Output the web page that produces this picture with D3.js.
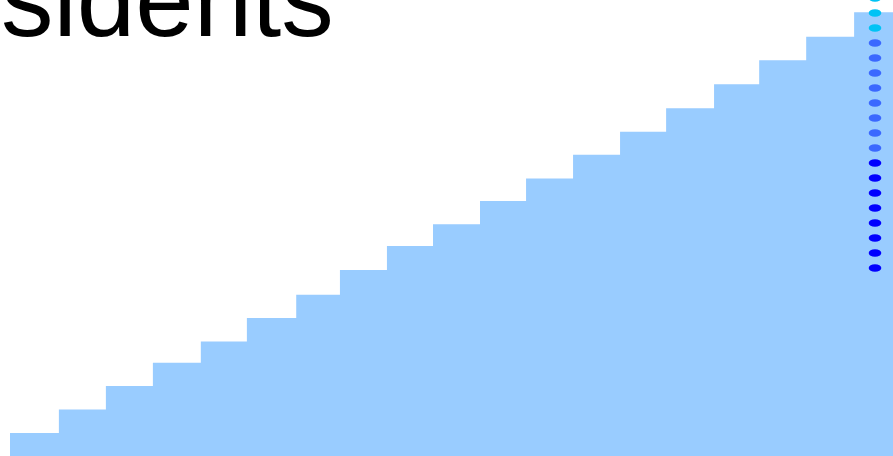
<!DOCTYPE html>
<html>
<head>
<meta charset="utf-8">
<script src="https://cdn.jsdelivr.net/npm/d3@7"></script>
<style>
  html, body { margin: 0; padding: 0; background: #fff; overflow: hidden; }
  svg { display: block; }
</style>
</head>
<body>
<div id="chart"></div>
<script>
// ---------------------------------------------
// DATA
// ---------------------------------------------
const titleText = "Presidents";

// step index where each count begins, and the running count
const stepStart = [0, 1.04, 2.04, 3.04, 4.06, 5.04, 6.09, 7.02, 8.02, 9, 10, 10.98, 11.98, 12.98, 13.96, 14.98, 15.94, 16.94, 17.96];
const stepCount = [1, 2, 3, 4, 4.9, 5.9, 6.9, 7.95, 8.97, 9.9, 10.9, 11.85, 12.87, 13.85, 14.85, 15.87, 16.9, 17.9, 18.95];

// marker column on the right
const markerIds    = d3.range(1, 20);
const markerGroup  = ["c","c","c","m","m","m","m","m","m","m","m","b","b","b","b","b","b","b","b"];
const groupColor   = { c: "#00c3f5", m: "#3b68ff", b: "#0000ff" };

// ---------------------------------------------
// SETUP
// ---------------------------------------------
const W = 893, H = 456;

const svg = d3.select("#chart").append("svg")
  .attr("width", W)
  .attr("height", H);

const x = d3.scaleLinear().domain([0, 19]).range([10, 10 + 47 * 19]);
const y = d3.scaleLinear().domain([0, 19]).range([456.4, 11]);

// ---------------------------------------------
// STEP AREA
// ---------------------------------------------
const pts = stepStart.map((s, i) => ({ s, v: stepCount[i] }));
pts.push({ s: 20, v: stepCount[stepCount.length - 1] });

const area = d3.area()
  .x(d => x(d.s))
  .y0(H + 20)
  .y1(d => y(d.v))
  .curve(d3.curveStepAfter);

svg.append("path")
  .datum(pts)
  .attr("d", area)
  .attr("fill", "#99ccff");

// ---------------------------------------------
// MARKERS
// ---------------------------------------------
const my = d3.scalePoint().domain(markerIds).range([-2, 268]);

svg.append("g")
  .selectAll("ellipse")
  .data(markerIds)
  .join("ellipse")
  .attr("cx", 875)
  .attr("cy", d => my(d))
  .attr("rx", 6.3)
  .attr("ry", 3.8)
  .attr("fill", (d, i) => groupColor[markerGroup[i]]);

// ---------------------------------------------
// TITLE (cropped)
// ---------------------------------------------
svg.append("text")
  .attr("x", 1)
  .attr("y", 36)
  .attr("text-anchor", "start")
  .style("font-family", "'Liberation Sans', Arial, sans-serif")
  .style("font-size", "105px")
  .attr("fill", "#000")
  .text(titleText)
  .each(function () {
    // shift so that "sidents" starts at the left edge
    const full = this.getComputedTextLength();
    const tail = this.getSubStringLength(3, titleText.length - 3);
    d3.select(this).attr("x", 1 - (full - tail));
  });
</script>
</body>
</html>
